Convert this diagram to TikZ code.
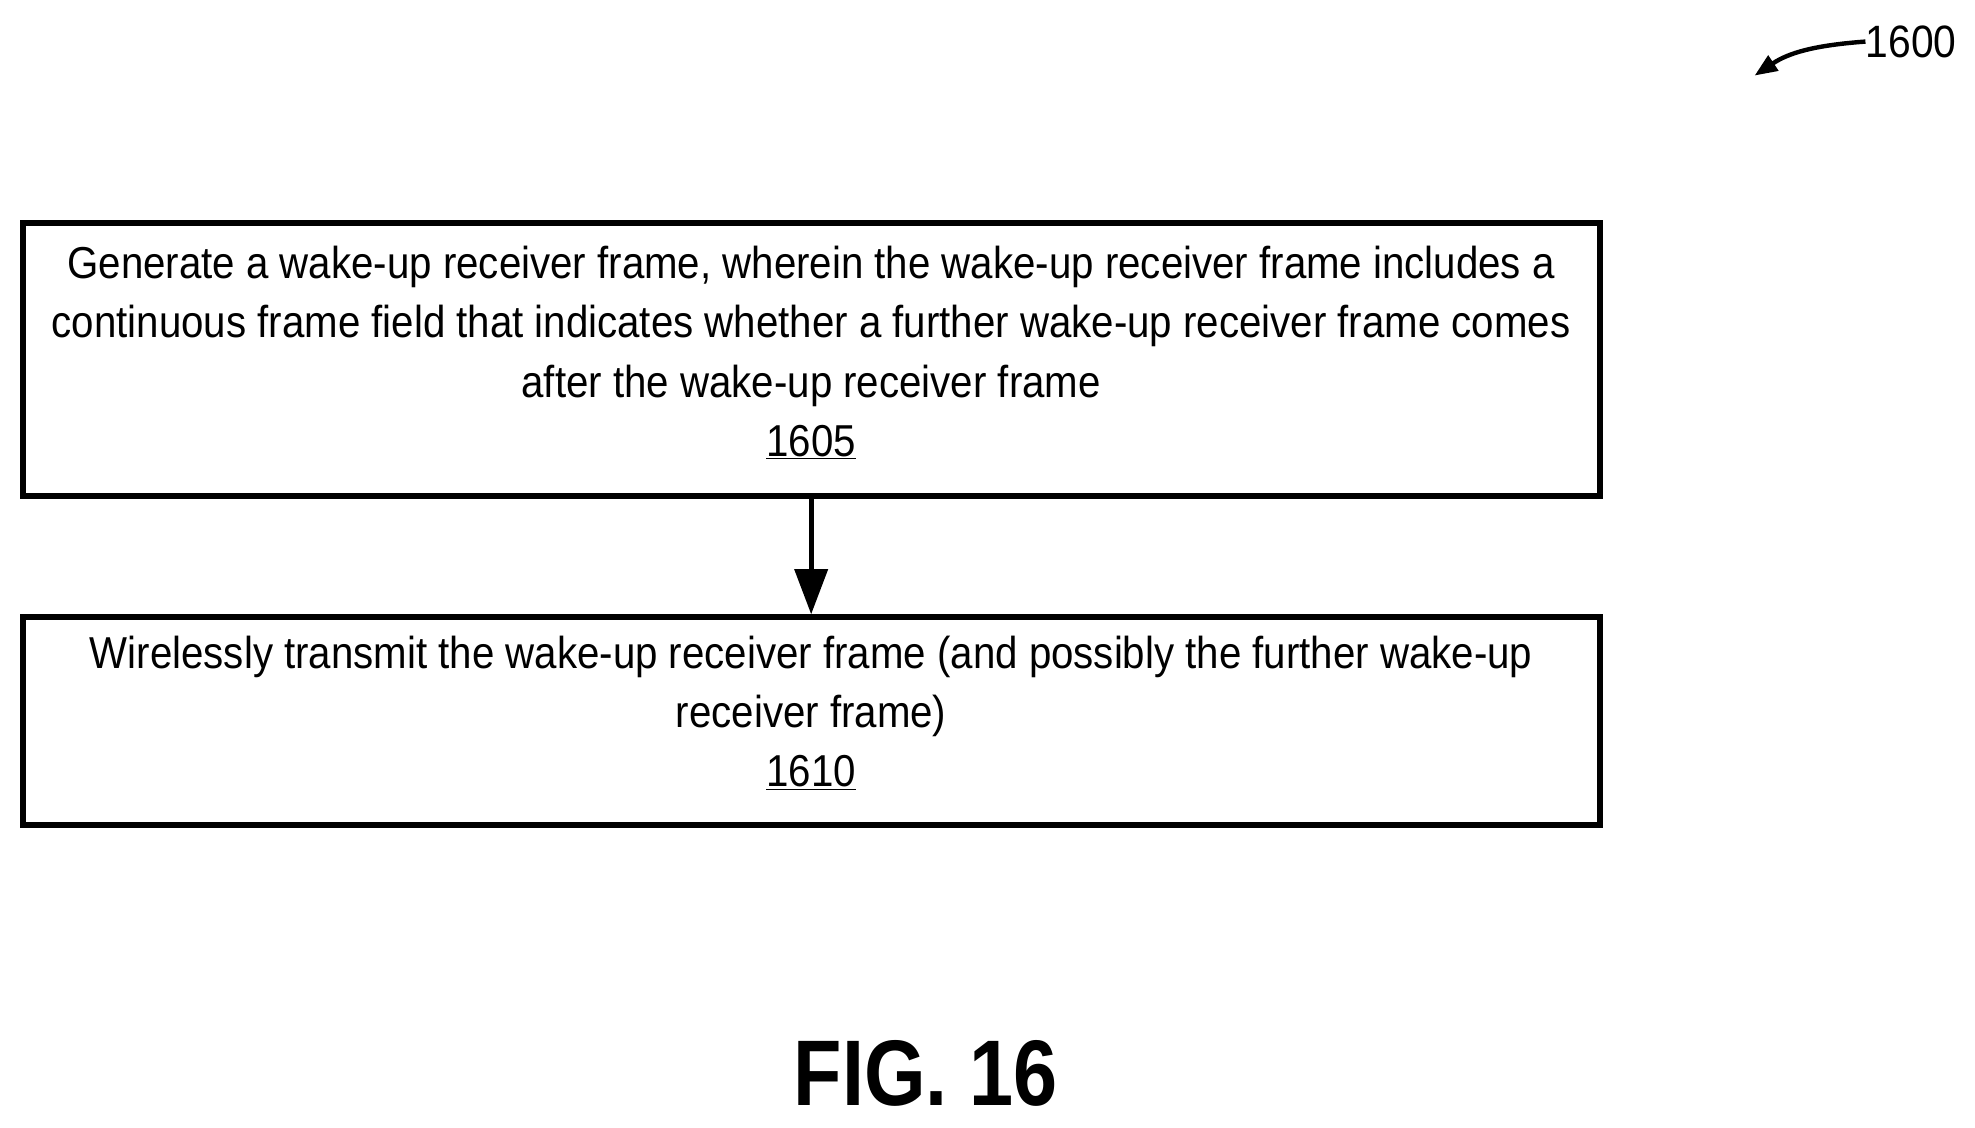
\documentclass[tikz,border=0pt]{standalone}
\usepackage{fontspec}
\setmainfont{Liberation Sans}[FakeStretch=0.9]
\newfontfamily\figfont{Liberation Sans}[FakeStretch=0.85]
\usetikzlibrary{arrows.meta}
\begin{document}
\begin{tikzpicture}[x=1pt,y=-1pt,
  box/.style={draw,line width=4.5pt,minimum width=1252pt,inner sep=0pt,align=center,font=\fontsize{35.5}{47}\selectfont},
  conn/.style={line width=4pt,-{Triangle[length=36pt,width=26pt]}}]
\useasboundingbox (0,0) rectangle (1568,895);
\node[box,minimum height=217pt] (b1) at (644,285.5) {};
\node[align=center,font=\fontsize{35.5}{47}\selectfont,inner sep=0pt] (t1) at (644,280) {Generate a wake-up receiver frame, wherein the wake-up receiver frame includes a\\continuous frame field that indicates whether a further wake-up receiver frame comes\\after the wake-up receiver frame\\\underline{1605}};
\node[box,minimum height=165pt] (b2) at (644,572.5) {};
\node[align=center,font=\fontsize{35.5}{47}\selectfont,inner sep=0pt] (t2) at (644,566) {Wirelessly transmit the wake-up receiver frame (and possibly the further wake-up\\receiver frame)\\\underline{1610}};
\draw[conn] (b1.south) -- (b2.north);
\node[font=\fontsize{36}{40}\selectfont,anchor=west,inner sep=0pt] (lab) at (1481,33) {1600};
\draw[line width=3.5pt,-{Triangle[length=18pt,width=14pt]}] (lab.west) .. controls (1440,36) and (1420,42) .. (1393,60);
\node[font=\figfont\bfseries\fontsize{74}{80}\selectfont] (fig) at (735,852) {FIG. 16};
\end{tikzpicture}
\end{document}
